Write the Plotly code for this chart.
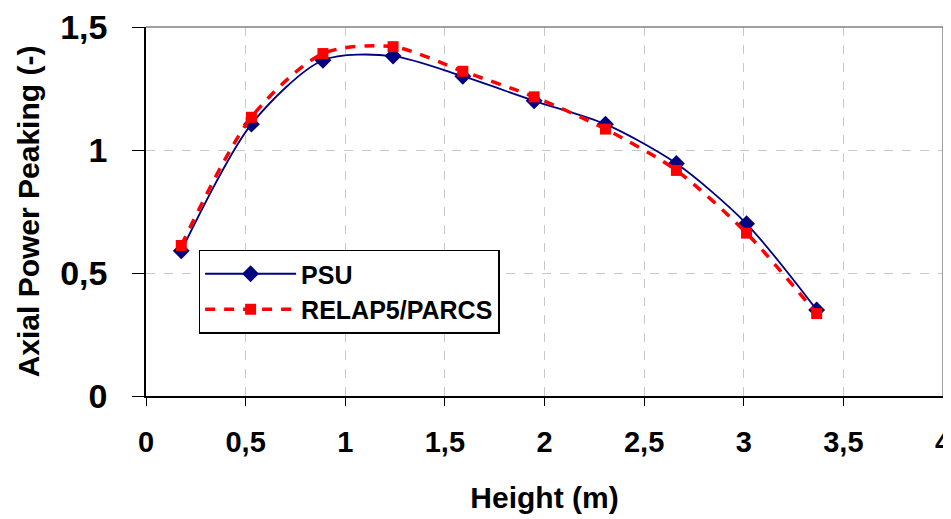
import plotly.graph_objects as go

height_m = [0.177, 0.529, 0.888, 1.240, 1.590, 1.948, 2.306, 2.662, 3.014, 3.366]
psu = [0.59, 1.105, 1.365, 1.382, 1.30, 1.20, 1.105, 0.945, 0.70, 0.35]
relap_parcs = [0.612, 1.133, 1.392, 1.420, 1.320, 1.216, 1.085, 0.917, 0.662, 0.335]

x_ticks = [0, 0.5, 1, 1.5, 2, 2.5, 3, 3.5, 4]
y_ticks = [0, 0.5, 1, 1.5]

FONT = "Liberation Sans, Arial, sans-serif"

fig = go.Figure()
fig.add_trace(go.Scatter(
    x=height_m, y=psu, name="<b>PSU</b>", mode="lines+markers",
    line=dict(color="#000080", width=1.8, shape="spline", smoothing=0.8),
    marker=dict(symbol="diamond", size=13, color="#000080"),
))
fig.add_trace(go.Scatter(
    x=height_m, y=relap_parcs, name="<b>RELAP5/PARCS</b>", mode="lines+markers",
    line=dict(color="#ff0000", width=3.5, dash="10px,9px", shape="spline", smoothing=0.8),
    marker=dict(symbol="square", size=11, color="#ff0000"),
))

fig.update_layout(
    width=943, height=511,
    margin=dict(l=138, r=8, t=19, b=123, autoexpand=False),
    paper_bgcolor="white", plot_bgcolor="white",
    separators=", ",
    font=dict(family=FONT, color="black"),
    showlegend=True,
    legend=dict(
        x=0.066, y=0.397, xanchor="left", yanchor="top",
        bordercolor="black", borderwidth=1.5, bgcolor="white",
        font=dict(size=25, family=FONT, color="black"),
        itemwidth=91, tracegroupgap=2,
    ),
    xaxis=dict(
        range=[0, 4], tickvals=x_ticks, ticktext=[str(v).replace(".", ",") for v in x_ticks],
        showgrid=True, gridcolor="#c8c8c8", griddash="dash", gridwidth=1,
        showline=True, linecolor="black", linewidth=1.5, mirror=False,
        ticks="outside", ticklen=8, tickcolor="black", tickwidth=1,
        ticklabelstandoff=11, ticklabeloverflow="allow", automargin=False,
        tickfont=dict(size=29, family=FONT, color="black", weight="bold"),
        title=dict(text="<b>Height (m)</b>", font=dict(size=30, family=FONT), standoff=30),
        zeroline=False,
    ),
    yaxis=dict(
        range=[0, 1.5], tickvals=y_ticks, ticktext=["0", "0,5", "1", "1,5"],
        showgrid=True, gridcolor="#c8c8c8", griddash="dash", gridwidth=1,
        showline=True, linecolor="black", linewidth=1.5, mirror=False,
        ticks="outside", ticklen=12, tickcolor="black", tickwidth=1,
        ticklabelstandoff=18, ticklabeloverflow="allow", automargin=False,
        tickfont=dict(size=34, family=FONT, color="black", weight="bold"),
        title=dict(text="<b>Axial Power Peaking (-)</b>", font=dict(size=30, family=FONT), standoff=12),
        zeroline=False,
    ),
    shapes=[
        dict(type="line", xref="paper", yref="paper", x0=0, x1=1, y0=1, y1=1,
             line=dict(color="#808080", width=1.5)),
        dict(type="line", xref="paper", yref="paper", x0=1, x1=1, y0=0, y1=1,
             line=dict(color="#808080", width=1.5)),
    ],
)

fig.write_html("out.html")
